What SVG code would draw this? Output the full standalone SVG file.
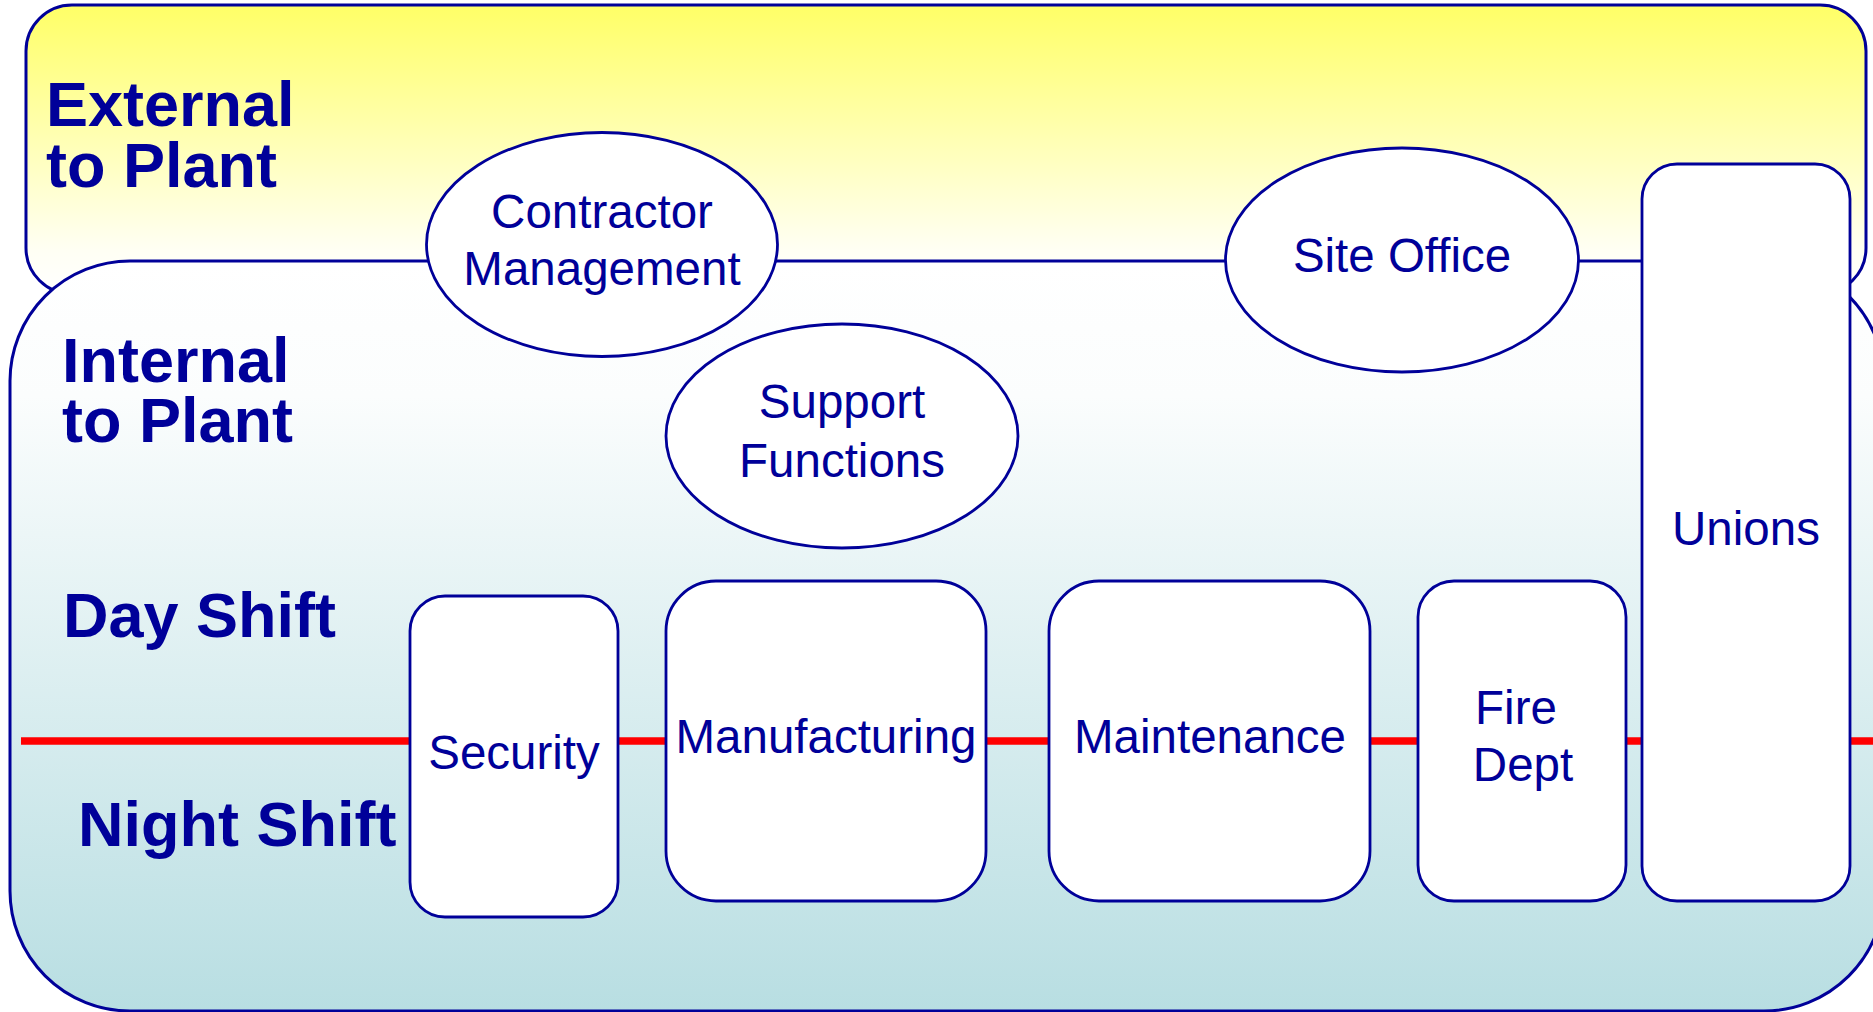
<svg xmlns="http://www.w3.org/2000/svg" width="1873" height="1012" viewBox="0 0 1873 1012">
  <defs>
    <linearGradient id="gExt" x1="0" y1="0" x2="0" y2="1">
      <stop offset="0" stop-color="#FFFF66"/>
      <stop offset="0.85" stop-color="#FFFFF4"/>
      <stop offset="1" stop-color="#FFFFFF"/>
    </linearGradient>
    <linearGradient id="gInt" x1="0" y1="0" x2="0" y2="1">
      <stop offset="0" stop-color="#FFFFFF"/>
      <stop offset="0.18" stop-color="#FBFDFD"/>
      <stop offset="1" stop-color="#B8DEE2"/>
    </linearGradient>
  </defs>
  <style>
    .zone { stroke: #000099; stroke-width: 3; }
    .node { fill: #FFFFFF; stroke: #000099; stroke-width: 2.8; }
    .lbl { font-family: "Liberation Sans", Arial, sans-serif; font-weight: bold; font-size: 63px; fill: #000099; }
    .txt { font-family: "Liberation Sans", Arial, sans-serif; font-size: 47.5px; fill: #000099; text-anchor: middle; }
    .divider { stroke: #FF0000; stroke-width: 7.5; fill: none; }
  </style>

  <g id="zone-external">
    <rect class="zone" x="26" y="5" width="1840" height="289" rx="46" ry="46" fill="url(#gExt)"/>
    <text class="lbl" x="46" y="126">External</text>
    <text class="lbl" x="46" y="187">to Plant</text>
  </g>

  <g id="zone-internal">
    <rect class="zone" x="10" y="261" width="1874" height="750" rx="120" ry="120" fill="url(#gInt)"/>
    <text class="lbl" x="62" y="382">Internal</text>
    <text class="lbl" x="62" y="442">to Plant</text>
    <text class="lbl" x="63" y="637">Day Shift</text>
    <text class="lbl" x="78" y="846">Night Shift</text>
  </g>

  <g id="connectors">
    <line class="divider" x1="21" y1="741" x2="1873" y2="741"/>
  </g>

  <g id="contractor-management">
    <ellipse class="node" cx="602" cy="244.5" rx="175.5" ry="112"/>
    <text class="txt" x="602" y="228">Contractor</text>
    <text class="txt" x="602" y="285">Management</text>
  </g>

  <g id="support-functions">
    <ellipse class="node" cx="842" cy="436" rx="176" ry="112"/>
    <text class="txt" x="842" y="418">Support</text>
    <text class="txt" x="842" y="477">Functions</text>
  </g>

  <g id="site-office">
    <ellipse class="node" cx="1402" cy="260" rx="176.5" ry="112"/>
    <text class="txt" x="1402" y="272">Site Office</text>
  </g>

  <g id="security">
    <rect class="node" x="410" y="596" width="208" height="321" rx="35" ry="35"/>
    <text class="txt" x="514" y="769">Security</text>
  </g>

  <g id="manufacturing">
    <rect class="node" x="666" y="581" width="320" height="320" rx="50" ry="50"/>
    <text class="txt" x="826" y="753">Manufacturing</text>
  </g>

  <g id="maintenance">
    <rect class="node" x="1049" y="581" width="321" height="320" rx="50" ry="50"/>
    <text class="txt" x="1210" y="753">Maintenance</text>
  </g>

  <g id="fire-dept">
    <rect class="node" x="1418" y="581" width="208" height="320" rx="36" ry="36"/>
    <text class="txt" x="1516" y="724">Fire</text>
    <text class="txt" x="1523" y="781">Dept</text>
  </g>

  <g id="unions">
    <rect class="node" x="1642" y="164" width="208" height="737" rx="35" ry="35"/>
    <text class="txt" x="1746" y="545">Unions</text>
  </g>
</svg>
